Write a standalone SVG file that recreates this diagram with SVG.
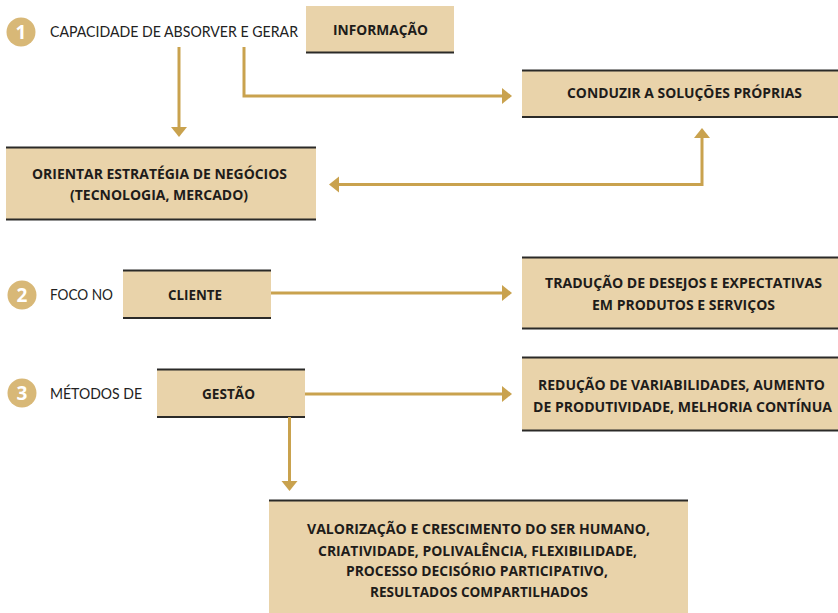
<svg xmlns="http://www.w3.org/2000/svg" width="838" height="613" viewBox="0 0 838 613">
<style>
.box{fill:#e9d3aa}
.edge{stroke:#2b2a28;stroke-width:2}
.t{font-family:"Open Sans",Lato,sans-serif;font-weight:bold;font-size:15px;fill:#1e1c1a;text-anchor:middle}
.lbl{font-family:Lato,"Open Sans",sans-serif;font-size:14.5px;fill:#222}
.num{font-family:"Open Sans",Lato,sans-serif;font-weight:bold;font-size:19px;fill:#fff;text-anchor:middle}
.c{fill:#d8b877}
.con{stroke:#c9a24e;stroke-width:3;fill:none}
.ah{fill:#c9a24e}
</style>
<rect width="838" height="613" fill="#fff"/>
<g id="n1">
<circle class="c" cx="21" cy="32" r="14.5"/>
<text class="num" x="21" y="39">1</text>
<text class="lbl" x="50" y="37" textLength="248" lengthAdjust="spacingAndGlyphs">CAPACIDADE DE ABSORVER E GERAR</text>
</g>
<g id="informacao">
<rect class="box" x="306" y="6" width="148" height="47"/>
<line class="edge" x1="306" y1="52.5" x2="454" y2="52.5"/>
<text class="t" x="380.5" y="35" textLength="95" lengthAdjust="spacingAndGlyphs">INFORMAÇÃO</text>
</g>
<g id="conduzir">
<rect class="box" x="522" y="70" width="316" height="47"/>
<line class="edge" x1="522" y1="70.5" x2="838" y2="70.5"/>
<line class="edge" x1="522" y1="117" x2="838" y2="117"/>
<text class="t" x="684.5" y="98" textLength="235" lengthAdjust="spacingAndGlyphs">CONDUZIR A SOLUÇÕES PRÓPRIAS</text>
</g>
<g id="orientar">
<rect class="box" x="6" y="147" width="310" height="73"/>
<line class="edge" x1="6" y1="147.5" x2="316" y2="147.5"/>
<line class="edge" x1="6" y1="219.5" x2="316" y2="219.5"/>
<text class="t" x="159.5" y="179" textLength="255" lengthAdjust="spacingAndGlyphs">ORIENTAR ESTRATÉGIA DE NEGÓCIOS</text>
<text class="t" x="159" y="200" textLength="178" lengthAdjust="spacingAndGlyphs">(TECNOLOGIA, MERCADO)</text>
</g>
<g id="n2">
<circle class="c" cx="22" cy="295" r="14.5"/>
<text class="num" x="22" y="302">2</text>
<text class="lbl" x="50" y="300" textLength="63" lengthAdjust="spacingAndGlyphs">FOCO NO</text>
</g>
<g id="cliente">
<rect class="box" x="123" y="270" width="148" height="48"/>
<line class="edge" x1="123" y1="270.5" x2="271" y2="270.5"/>
<line class="edge" x1="123" y1="318" x2="271" y2="318"/>
<text class="t" x="195" y="300" textLength="54" lengthAdjust="spacingAndGlyphs">CLIENTE</text>
</g>
<g id="traducao">
<rect class="box" x="522" y="257" width="316" height="72"/>
<line class="edge" x1="522" y1="257.5" x2="838" y2="257.5"/>
<line class="edge" x1="522" y1="328.5" x2="838" y2="328.5"/>
<text class="t" x="683.5" y="288" textLength="277" lengthAdjust="spacingAndGlyphs">TRADUÇÃO DE DESEJOS E EXPECTATIVAS</text>
<text class="t" x="683.5" y="310" textLength="183" lengthAdjust="spacingAndGlyphs">EM PRODUTOS E SERVIÇOS</text>
</g>
<g id="n3">
<circle class="c" cx="22" cy="393" r="14.5"/>
<text class="num" x="22" y="400">3</text>
<text class="lbl" x="50" y="399" textLength="92" lengthAdjust="spacingAndGlyphs">MÉTODOS DE</text>
</g>
<g id="gestao">
<rect class="box" x="157" y="369" width="148" height="48"/>
<line class="edge" x1="157" y1="369.5" x2="305" y2="369.5"/>
<line class="edge" x1="157" y1="417" x2="305" y2="417"/>
<text class="t" x="228.5" y="399" textLength="53" lengthAdjust="spacingAndGlyphs">GESTÃO</text>
</g>
<g id="reducao">
<rect class="box" x="522" y="357" width="316" height="74"/>
<line class="edge" x1="522" y1="357.5" x2="838" y2="357.5"/>
<line class="edge" x1="522" y1="430.5" x2="838" y2="430.5"/>
<text class="t" x="681.5" y="390" textLength="287" lengthAdjust="spacingAndGlyphs">REDUÇÃO DE VARIABILIDADES, AUMENTO</text>
<text class="t" x="682.5" y="412" textLength="299" lengthAdjust="spacingAndGlyphs">DE PRODUTIVIDADE, MELHORIA CONTÍNUA</text>
</g>
<g id="valorizacao">
<rect class="box" x="269" y="500" width="419" height="113"/>
<line class="edge" x1="269" y1="500.5" x2="688" y2="500.5"/>
<text class="t" x="478.5" y="534" textLength="343" lengthAdjust="spacingAndGlyphs">VALORIZAÇÃO E CRESCIMENTO DO SER HUMANO,</text>
<text class="t" x="477.5" y="556" textLength="319" lengthAdjust="spacingAndGlyphs">CRIATIVIDADE, POLIVALÊNCIA, FLEXIBILIDADE,</text>
<text class="t" x="477" y="576" textLength="262" lengthAdjust="spacingAndGlyphs">PROCESSO DECISÓRIO PARTICIPATIVO,</text>
<text class="t" x="479" y="597" textLength="218" lengthAdjust="spacingAndGlyphs">RESULTADOS COMPARTILHADOS</text>
</g>
<g id="connectors">
<line class="con" x1="179" y1="47" x2="179" y2="128"/>
<polygon class="ah" points="171,127 187,127 179,137"/>
<polyline class="con" points="244,47 244,96 503,96"/>
<polygon class="ah" points="502,88 502,104 512,96"/>
<polyline class="con" points="702,137 702,184.5 338,184.5"/>
<polygon class="ah" points="694,138 710,138 702,128"/>
<polygon class="ah" points="339,176.5 339,192.5 329,184.5"/>
<line class="con" x1="271" y1="293" x2="503" y2="293"/>
<polygon class="ah" points="502,285 502,301 512,293"/>
<line class="con" x1="305" y1="394" x2="503" y2="394"/>
<polygon class="ah" points="502,386 502,402 512,394"/>
<line class="con" x1="289.5" y1="417" x2="289.5" y2="482"/>
<polygon class="ah" points="281.5,481 297.5,481 289.5,491"/>
</g>
</svg>
